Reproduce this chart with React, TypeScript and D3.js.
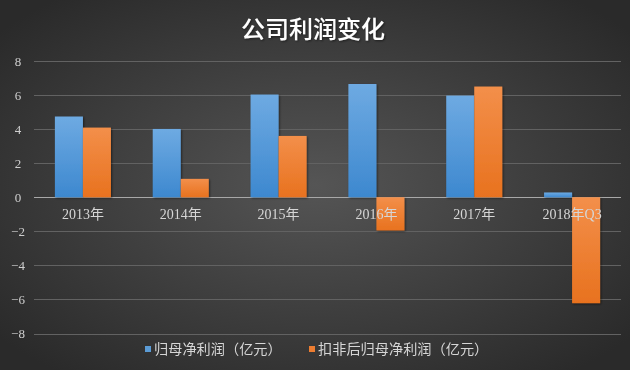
import * as React from 'react';
import { useEffect, useRef } from 'react';
import * as d3 from 'd3';

const categories = ['2013年', '2014年', '2015年', '2016年', '2017年', '2018年Q3'];
const netProfit = [4.74, 4.01, 6.03, 6.65, 5.97, 0.28];
const deductedProfit = [4.09, 1.08, 3.6, -1.95, 6.5, -6.22];
const seriesNames = ['归母净利润（亿元）', '扣非后归母净利润（亿元）'];
const yTicks = [-8, -6, -4, -2, 0, 2, 4, 6, 8];

const W = 630;
const H = 370;
const CJK = '"Noto Sans CJK SC", "Noto Sans", sans-serif';
const SERIF = '"Liberation Serif", "DejaVu Serif", "Noto Sans CJK SC", serif';

const App: React.FC = () => {
  const svgRef = useRef<SVGSVGElement>(null);

  useEffect(() => {
    if (!svgRef.current) return;
    const svg = d3.select(svgRef.current);
    svg.selectAll('*').remove();

    const defs = svg.append('defs');
    const bg = defs.append('radialGradient').attr('id', 'bg')
      .attr('cx', '50%').attr('cy', '50%').attr('r', '65%');
    bg.append('stop').attr('offset', '0%').attr('stop-color', '#555555');
    bg.append('stop').attr('offset', '100%').attr('stop-color', '#2a2a2a');

    const mkGrad = (id: string, top: string, bottom: string) => {
      const g = defs.append('linearGradient').attr('id', id)
        .attr('x1', 0).attr('y1', 0).attr('x2', 0).attr('y2', 1);
      g.append('stop').attr('offset', '0%').attr('stop-color', top);
      g.append('stop').attr('offset', '100%').attr('stop-color', bottom);
    };
    mkGrad('blue', '#6eaae2', '#3d88cf');
    mkGrad('orange', '#f38f4a', '#e8721f');

    const shadow = defs.append('filter').attr('id', 'shadow')
      .attr('x', '-20%').attr('y', '-20%').attr('width', '140%').attr('height', '140%');
    shadow.append('feDropShadow').attr('dx', 1).attr('dy', 1)
      .attr('stdDeviation', 1.2).attr('flood-color', '#000').attr('flood-opacity', 0.5);

    svg.append('rect').attr('width', W).attr('height', H).attr('fill', 'url(#bg)');

    const x0 = d3.scaleBand<string>().domain(categories).range([34, 621]);
    const x1 = d3.scaleBand<number>().domain([0, 1]).range([0, x0.bandwidth()]).paddingOuter(0.746);
    const y = d3.scaleLinear().domain([-8, 8]).range([333.5, 61]);

    // grid lines
    svg.append('g').selectAll('line').data(yTicks).enter().append('line')
      .attr('x1', 34).attr('x2', 621)
      .attr('y1', d => Math.round(y(d)) + 0.5).attr('y2', d => Math.round(y(d)) + 0.5)
      .attr('stroke', d => (d === 0 ? '#a8a8a8' : '#626262'))
      .attr('stroke-width', 1);

    // y tick labels
    svg.append('g').selectAll('text').data(yTicks).enter().append('text')
      .attr('x', 18).attr('y', d => y(d)).attr('dy', '0.35em')
      .attr('text-anchor', 'middle')
      .attr('font-family', SERIF).attr('font-size', 13).attr('fill', '#cfcfcf')
      .text(d => String(d).replace('-', '−'));

    const series = [netProfit, deductedProfit];
    const fills = ['url(#blue)', 'url(#orange)'];

    series.forEach((vals, si) => {
      svg.append('g').selectAll('rect').data(vals).enter().append('rect')
        .attr('x', (_, i) => (x0(categories[i]) ?? 0) + (x1(si) ?? 0))
        .attr('width', x1.bandwidth())
        .attr('y', d => y(Math.max(0, d)))
        .attr('height', d => Math.abs(y(d) - y(0)))
        .attr('fill', fills[si])
        .attr('filter', 'url(#shadow)');
    });

    // category labels
    svg.append('g').selectAll('text').data(categories).enter().append('text')
      .attr('x', d => (x0(d) ?? 0) + x0.bandwidth() / 2)
      .attr('y', 214).attr('dy', '0.35em')
      .attr('text-anchor', 'middle')
      .attr('font-family', SERIF).attr('font-size', 14).attr('fill', '#d6d6d6')
      .text(d => d);

    // title
    svg.append('text')
      .attr('x', 313).attr('y', 30).attr('dy', '0.35em')
      .attr('text-anchor', 'middle')
      .attr('font-family', CJK).attr('font-size', 24).attr('font-weight', 500)
      .attr('fill', '#ffffff').attr('filter', 'url(#shadow)')
      .text('公司利润变化');

    // legend
    const legendX = [145, 309];
    const legendColors = ['#5b9bd5', '#ed7d31'];
    const lg = svg.append('g');
    seriesNames.forEach((name, i) => {
      lg.append('rect').attr('x', legendX[i]).attr('y', 346)
        .attr('width', 6).attr('height', 6).attr('fill', legendColors[i]);
      lg.append('text').attr('x', legendX[i] + 9).attr('y', 349).attr('dy', '0.35em')
        .attr('font-family', CJK).attr('font-size', 14.2).attr('fill', '#d6d6d6')
        .text(name);
    });
  }, []);

  return (
    <div style={{ position: 'fixed', left: 0, top: 0, width: W, height: H }}>
      <svg ref={svgRef} width={W} height={H} viewBox={`0 0 ${W} ${H}`} style={{ display: 'block' }} />
    </div>
  );
};

export default App;
